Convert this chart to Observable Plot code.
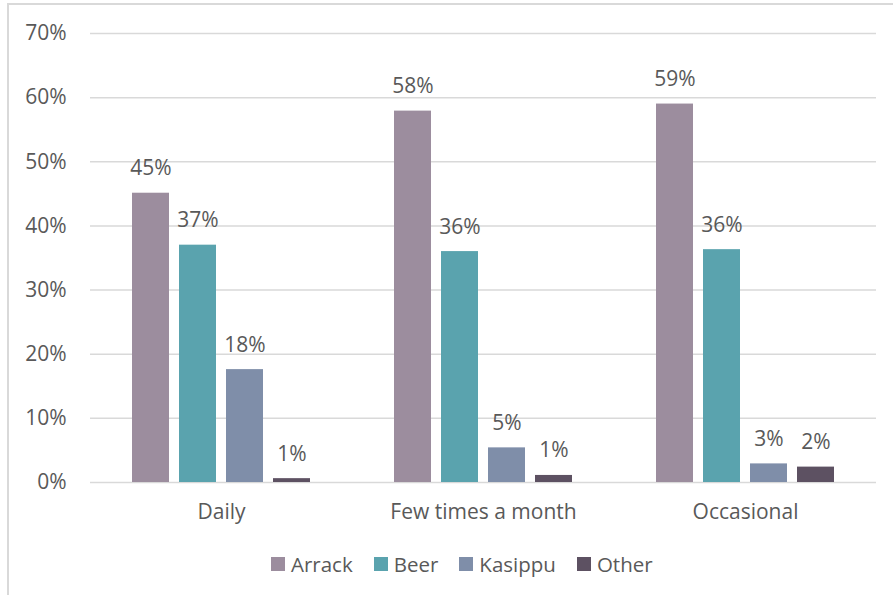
<!DOCTYPE html>
<html>
<head>
<meta charset="utf-8">
<script src="https://cdn.jsdelivr.net/npm/d3@7"></script>
<script src="https://cdn.jsdelivr.net/npm/@observablehq/plot@0.6"></script>
<style>
  html, body { margin: 0; padding: 0; background: #fff; overflow: hidden; }
  #wrap { position: relative; width: 893px; height: 595px; font-family: "Open Sans", sans-serif; }
  #frame { position: absolute; left: 7px; top: 3px; width: 900px; height: 610px; border: 2px solid #d9d9d9; box-sizing: border-box; }
  #chart { position: absolute; left: 0; top: 0; }
  #legend { position: absolute; left: 271px; top: 550px; display: flex; align-items: center; gap: 21px; font-size: 20.5px; color: #595959; }
  .item { display: flex; align-items: center; gap: 6px; }
  .sw { width: 14px; height: 14px; display: inline-block; }
</style>
</head>
<body>
<div id="wrap">
  <div id="frame"></div>
  <div id="chart"></div>
  <div id="legend"></div>
</div>
<script>
const categories = ["Daily", "Few times a month", "Occasional"];
const series = ["Arrack", "Beer", "Kasippu", "Other"];
const arrack = [45.1, 57.9, 59.0];
const beer = [37.0, 36.0, 36.3];
const kasippu = [17.6, 5.4, 2.9];
const other = [0.6, 1.1, 2.4];
const yTicks = [0, 10, 20, 30, 40, 50, 60, 70];
const colors = ["#9c8d9e", "#5aa3ae", "#7f8ea9", "#5d5162"];

const seriesValues = [arrack, beer, kasippu, other];
const data = [];
categories.forEach((c, i) => {
  series.forEach((s, j) => data.push({category: c, series: s, value: seriesValues[j][i]}));
});

const textColor = "#595959";
const fs = 21;
const plot = Plot.plot({
  width: 893,
  height: 540,
  marginLeft: 89,
  marginRight: 16,
  marginTop: 33,
  marginBottom: 58,
  style: {fontFamily: "'Open Sans', sans-serif", fontSize: fs + "px", color: textColor, background: "transparent"},
  fx: {domain: categories, padding: 0, label: null, axis: null},
  x: {domain: series, paddingInner: 0.22, paddingOuter: 0.84, axis: null},
  y: {domain: [0, 70], label: null, axis: null},
  color: {domain: series, range: colors},
  marks: [
    Plot.ruleY(yTicks, {stroke: "#d9d9d9", strokeWidth: 1.5}),
    Plot.barY(data, {fx: "category", x: "series", y: "value", fill: "series"}),
    Plot.text(data, {fx: "category", x: "series", y: "value", text: d => Math.round(d.value) + "%", lineAnchor: "bottom", dy: -18, fill: textColor, fontSize: fs}),
    Plot.axisY(yTicks, {tickSize: 0, tickPadding: 24, tickFormat: d => d + "%", label: null, fontSize: fs, fill: textColor}),
    Plot.axisFx({anchor: "bottom", tickSize: 0, tickPadding: 22, label: null, fontSize: fs, fill: textColor})
  ]
});
document.getElementById("chart").appendChild(plot);

const legend = document.getElementById("legend");
series.forEach((s, j) => {
  const item = document.createElement("div");
  item.className = "item";
  const sw = document.createElement("span");
  sw.className = "sw";
  sw.style.background = colors[j];
  const t = document.createElement("span");
  t.textContent = s;
  item.appendChild(sw);
  item.appendChild(t);
  legend.appendChild(item);
});
</script>
</body>
</html>
